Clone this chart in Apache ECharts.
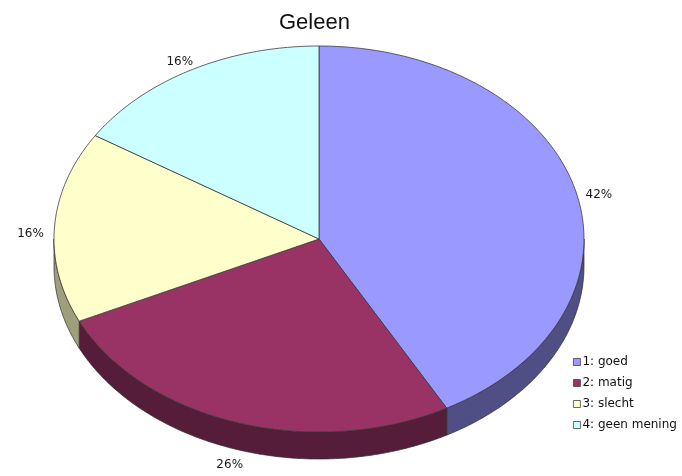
<!DOCTYPE html>
<html>
<head>
<meta charset="utf-8">
<script src="https://cdn.jsdelivr.net/npm/echarts@6/dist/echarts.min.js"></script>
<style>
  html, body { margin: 0; padding: 0; background: #fff; }
  #chart { width: 682px; height: 476px; }
</style>
</head>
<body>
<div id="chart"></div>
<script>
// Survey answers for Geleen, shown as a tilted 3D pie
const categories = ['1: goed', '2: matig', '3: slecht', '4: geen mening'];
const shares = [42, 26, 16, 16];
const shareLabels = ['42%', '26%', '16%', '16%'];

// palette: top faces and darker side walls
const topColors = ['#9999ff', '#993366', '#ffffcc', '#ccffff'];
const sideColors = ['#4f4f86', '#561d3a', '#9f9f7c', '#7fa0a0'];

const total = shares.reduce((a, b) => a + b, 0);

// ellipse geometry of the pie's top face
const CX = 319, CY = 239, RX = 265, RY = 193, DEPTH = 27;

function pt(t, dy) {
  return [CX + RX * Math.sin(t), CY - RY * Math.cos(t) + (dy || 0)];
}

function arcPoints(t0, t1, dy) {
  const pts = [];
  const n = Math.max(2, Math.ceil(Math.abs(t1 - t0) / 0.01));
  for (let k = 0; k <= n; k++) {
    pts.push(pt(t0 + (t1 - t0) * k / n, dy));
  }
  return pts;
}

function renderSlice(params, api) {
  const i = params.seriesIndex;
  let before = 0;
  for (let k = 0; k < i; k++) before += shares[k];
  const value = api.value(0);
  const t0 = before / total * Math.PI * 2;
  const t1 = (before + value) / total * Math.PI * 2;
  const children = [];

  // outer wall, visible on the front half of the ellipse
  const f0 = Math.max(t0, Math.PI / 2);
  const f1 = Math.min(t1, Math.PI * 1.5);
  if (f1 > f0) {
    const top = arcPoints(f0, f1, 0);
    const bottom = arcPoints(f1, f0, DEPTH);
    children.push({
      type: 'polygon',
      z2: 1,
      shape: { points: top.concat(bottom) },
      style: { fill: sideColors[i], stroke: '#2a2a2a', lineWidth: 0.7 }
    });
  }

  // top face
  const face = [[CX, CY]].concat(arcPoints(t0, t1, 0));
  children.push({
    type: 'polygon',
    z2: 10,
    shape: { points: face },
    style: { fill: topColors[i], stroke: '#3a3a3a', lineWidth: 0.8 }
  });

  // percentage label outside the rim
  const tm = (t0 + t1) / 2;
  const front = Math.cos(tm) < 0;
  const lx = CX + (RX + 24) * Math.sin(tm);
  const ly = CY - (RY + 18) * Math.cos(tm) + 8 + (front ? 17 : 0);
  children.push({
    type: 'text',
    z2: 20,
    x: lx,
    y: ly,
    style: {
      text: shareLabels[i],
      fill: '#1a1a1a',
      font: '12px "DejaVu Sans", sans-serif',
      align: 'center',
      verticalAlign: 'middle'
    }
  });

  return { type: 'group', children: children };
}

const chart = echarts.init(document.getElementById('chart'), null, { renderer: 'canvas' });

chart.setOption({
  animation: false,
  backgroundColor: '#fff',
  title: {
    text: 'Geleen',
    left: 274,
    top: 7,
    textStyle: {
      fontFamily: '"Liberation Sans", Arial, sans-serif',
      fontSize: 22,
      fontWeight: 'normal',
      color: '#111'
    }
  },
  legend: {
    orient: 'vertical',
    left: 568,
    top: 351,
    itemWidth: 7,
    itemHeight: 7,
    itemGap: 9,
    icon: 'rect',
    selectedMode: false,
    itemStyle: { borderColor: '#444', borderWidth: 0.8 },
    textStyle: {
      fontFamily: '"DejaVu Sans", sans-serif',
      fontSize: 12,
      lineHeight: 12,
      color: '#111',
      padding: [0, 0, 0, -3]
    },
    data: categories
  },
  series: shares.map((v, i) => ({
    type: 'custom',
    name: categories[i],
    coordinateSystem: 'none',
    silent: true,
    itemStyle: { color: topColors[i] },
    data: [[v]],
    renderItem: renderSlice
  }))
});
</script>
</body>
</html>
